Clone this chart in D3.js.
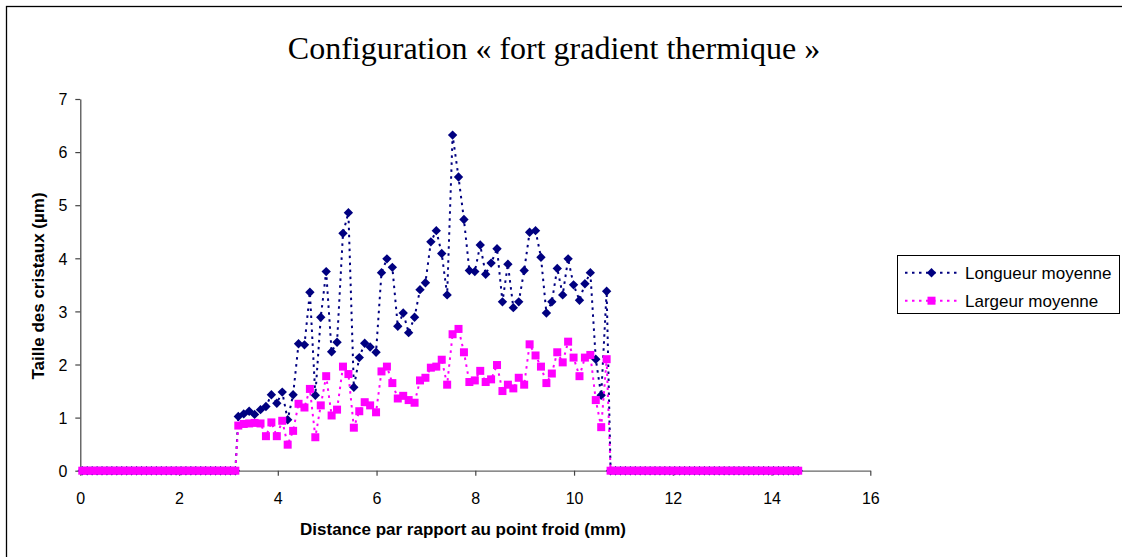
<!DOCTYPE html>
<html>
<head>
<meta charset="utf-8">
<script src="https://cdn.jsdelivr.net/npm/d3@7"></script>
<style>
  html, body { margin: 0; padding: 0; background: #fff; }
  svg { display: block; }
</style>
</head>
<body>
<svg id="chart" width="1122" height="557"></svg>
<script>
// ---------------- DATA ----------------
const titleText = "Configuration « fort gradient thermique »";
const xLabel = "Distance par rapport au point froid (mm)";
const yLabel = "Taille des cristaux (µm)";
const seriesNames = ["Longueur moyenne", "Largeur moyenne"];
const xTicks = [0, 2, 4, 6, 8, 10, 12, 14, 16];
const yTicks = [0, 1, 2, 3, 4, 5, 6, 7];

// Distance (mm)
const distance = [
  0.04, 0.14, 0.24, 0.34, 0.44, 0.54, 0.64, 0.74, 0.84, 0.94,
  1.04, 1.14, 1.24, 1.34, 1.44, 1.54, 1.64, 1.74, 1.84, 1.94,
  2.04, 2.14, 2.24, 2.34, 2.44, 2.54, 2.64, 2.74, 2.84, 2.94,
  3.04, 3.14,
  3.20, 3.31, 3.42, 3.53, 3.65, 3.76, 3.87, 3.98, 4.09, 4.20,
  4.31, 4.42, 4.54, 4.65, 4.76, 4.87, 4.98, 5.09, 5.20, 5.32,
  5.43, 5.54, 5.65, 5.76, 5.87, 5.99, 6.10, 6.21, 6.32, 6.43,
  6.54, 6.65, 6.77, 6.88, 6.99, 7.10, 7.21, 7.32, 7.43, 7.54,
  7.66, 7.77, 7.88, 7.99, 8.10, 8.21, 8.32, 8.44, 8.55, 8.66,
  8.77, 8.88, 8.99, 9.10, 9.22, 9.33, 9.44, 9.55, 9.66, 9.77,
  9.88, 9.99, 10.11, 10.22, 10.33, 10.44, 10.55, 10.66,
  10.74, 10.84, 10.94, 11.04, 11.14, 11.24, 11.34, 11.44, 11.54, 11.64,
  11.74, 11.84, 11.94, 12.04, 12.14, 12.24, 12.34, 12.44, 12.54, 12.64,
  12.74, 12.84, 12.94, 13.04, 13.14, 13.24, 13.34, 13.44, 13.54, 13.64,
  13.74, 13.84, 13.94, 14.04, 14.14, 14.24, 14.34, 14.44, 14.54
];

// Longueur moyenne (µm)
const longueur = [
  0, 0, 0, 0, 0, 0, 0, 0, 0, 0,
  0, 0, 0, 0, 0, 0, 0, 0, 0, 0,
  0, 0, 0, 0, 0, 0, 0, 0, 0, 0,
  0, 0,
  1.02, 1.07, 1.12, 1.06, 1.15, 1.21, 1.43, 1.27, 1.48, 0.96,
  1.43, 2.39, 2.37, 3.36, 1.42, 2.89, 3.75, 2.24, 2.42, 4.47,
  4.86, 1.57, 2.13, 2.40, 2.33, 2.23, 3.73, 3.99, 3.83, 2.72,
  2.97, 2.60, 2.89, 3.41, 3.54, 4.31, 4.52, 4.09, 3.31, 6.32,
  5.53, 4.73, 3.77, 3.75, 4.25, 3.70, 3.91, 4.18, 3.18, 3.89,
  3.07, 3.18, 3.77, 4.49, 4.52, 4.02, 2.97, 3.18, 3.81, 3.31,
  3.99, 3.50, 3.21, 3.52, 3.73, 2.10, 1.42, 3.38,
  0, 0, 0, 0, 0, 0, 0, 0, 0, 0,
  0, 0, 0, 0, 0, 0, 0, 0, 0, 0,
  0, 0, 0, 0, 0, 0, 0, 0, 0, 0,
  0, 0, 0, 0, 0, 0, 0, 0, 0
];

// Largeur moyenne (µm)
const largeur = [
  0, 0, 0, 0, 0, 0, 0, 0, 0, 0,
  0, 0, 0, 0, 0, 0, 0, 0, 0, 0,
  0, 0, 0, 0, 0, 0, 0, 0, 0, 0,
  0, 0,
  0.85, 0.88, 0.89, 0.90, 0.89, 0.65, 0.91, 0.65, 0.94, 0.49,
  0.75, 1.26, 1.19, 1.54, 0.63, 1.23, 1.78, 1.04, 1.15, 1.96,
  1.82, 0.81, 1.12, 1.29, 1.23, 1.10, 1.87, 1.96, 1.65, 1.36,
  1.41, 1.33, 1.28, 1.70, 1.75, 1.94, 1.96, 2.09, 1.62, 2.57,
  2.67, 2.23, 1.67, 1.70, 1.88, 1.67, 1.72, 1.99, 1.50, 1.62,
  1.55, 1.75, 1.62, 2.38, 2.17, 1.96, 1.65, 1.83, 2.23, 2.04,
  2.43, 2.13, 1.78, 2.13, 2.18, 1.33, 0.82, 2.10,
  0, 0, 0, 0, 0, 0, 0, 0, 0, 0,
  0, 0, 0, 0, 0, 0, 0, 0, 0, 0,
  0, 0, 0, 0, 0, 0, 0, 0, 0, 0,
  0, 0, 0, 0, 0, 0, 0, 0, 0
];

// ---------------- DRAWING ----------------
const svg = d3.select("#chart");
const sans = "'Liberation Sans', Arial, sans-serif";
const serif = "'Liberation Serif', 'Times New Roman', serif";

const colors = ["#000080", "#FF00FF"];

// outer chart frame (cropped at right & bottom)
svg.append("rect")
  .attr("x", 6.5).attr("y", 6.5)
  .attr("width", 1300).attr("height", 700)
  .attr("fill", "#fff").attr("stroke", "#000").attr("stroke-width", 1.3);

const x = d3.scaleLinear().domain([0, 16]).range([80.3, 870.3]);
const y = d3.scaleLinear().domain([0, 7]).range([470.7, 99]);

// title
svg.append("text")
  .attr("x", 554).attr("y", 59)
  .attr("text-anchor", "middle")
  .attr("font-family", serif).attr("font-size", 32)
  .attr("fill", "#000")
  .text(titleText);

// axes
const xAxis = svg.append("g")
  .attr("transform", `translate(0,${y(0)})`)
  .call(d3.axisBottom(x).tickValues(xTicks).tickSize(5).tickSizeOuter(0).tickFormat(d3.format("d")));
xAxis.select(".domain").attr("stroke", "#666").attr("stroke-width", 1.2);
xAxis.selectAll(".tick line").attr("stroke", "#444").attr("stroke-width", 1.2);
xAxis.selectAll("text")
  .attr("y", 33.5).attr("dy", 0)
  .attr("font-family", sans).attr("font-size", 16).attr("fill", "#000");

const yAxis = svg.append("g")
  .attr("transform", `translate(${x(0)},0)`)
  .call(d3.axisLeft(y).tickValues(yTicks).tickSize(5).tickSizeOuter(0).tickFormat(d3.format("d")));
yAxis.select(".domain").attr("stroke", "#444").attr("stroke-width", 1.2);
yAxis.selectAll(".tick line").attr("stroke", "#444").attr("stroke-width", 1.2);
yAxis.selectAll("text")
  .attr("x", -13).attr("dy", "0.36em")
  .attr("font-family", sans).attr("font-size", 16).attr("fill", "#000");

// axis titles
svg.append("text")
  .attr("x", 463).attr("y", 535)
  .attr("text-anchor", "middle")
  .attr("font-family", sans).attr("font-size", 17).attr("font-weight", "bold")
  .text(xLabel);

svg.append("text")
  .attr("transform", "translate(44,286) rotate(-90)")
  .attr("text-anchor", "middle")
  .attr("font-family", sans).attr("font-size", 17).attr("font-weight", "bold")
  .text(yLabel);

// series
const seriesValues = [longueur, largeur];
const dash = "2.5,4.5";
const diamond = d3.symbol().type(d3.symbolDiamond2).size(56);
const sq = 8;

seriesValues.forEach((vals, si) => {
  const pts = distance.map((d, i) => [d, vals[i]]);
  const g = svg.append("g");
  g.append("path")
    .attr("d", d3.line().x(d => x(d[0])).y(d => y(d[1]))(pts))
    .attr("fill", "none")
    .attr("stroke", colors[si])
    .attr("stroke-width", 2)
    .attr("stroke-dasharray", dash);
  if (si === 0) {
    g.selectAll("path.m").data(pts).enter().append("path")
      .attr("class", "m")
      .attr("d", diamond)
      .attr("transform", d => `translate(${x(d[0])},${y(d[1])})`)
      .attr("fill", colors[si]);
  } else {
    g.selectAll("rect.m").data(pts).enter().append("rect")
      .attr("class", "m")
      .attr("x", d => x(d[0]) - sq / 2)
      .attr("y", d => y(d[1]) - sq / 2)
      .attr("width", sq).attr("height", sq)
      .attr("fill", colors[si]);
  }
});

// legend
const lg = svg.append("g");
lg.append("rect")
  .attr("x", 897.5).attr("y", 255.5)
  .attr("width", 222).attr("height", 58)
  .attr("fill", "#fff").attr("stroke", "#000").attr("stroke-width", 1);

const legendY = [272.7, 300.7];
seriesNames.forEach((name, si) => {
  const ly = legendY[si];
  lg.append("line")
    .attr("x1", 905).attr("x2", 959)
    .attr("y1", ly).attr("y2", ly)
    .attr("stroke", colors[si]).attr("stroke-width", 2)
    .attr("stroke-dasharray", dash);
  if (si === 0) {
    lg.append("path").attr("d", diamond)
      .attr("transform", `translate(931.5,${ly})`)
      .attr("fill", colors[si]);
  } else {
    lg.append("rect")
      .attr("x", 931.5 - sq / 2).attr("y", ly - sq / 2)
      .attr("width", sq).attr("height", sq)
      .attr("fill", colors[si]);
  }
  lg.append("text")
    .attr("x", 965).attr("y", ly + 6)
    .attr("font-family", sans).attr("font-size", 17)
    .attr("fill", "#000")
    .text(name);
});
</script>
</body>
</html>
